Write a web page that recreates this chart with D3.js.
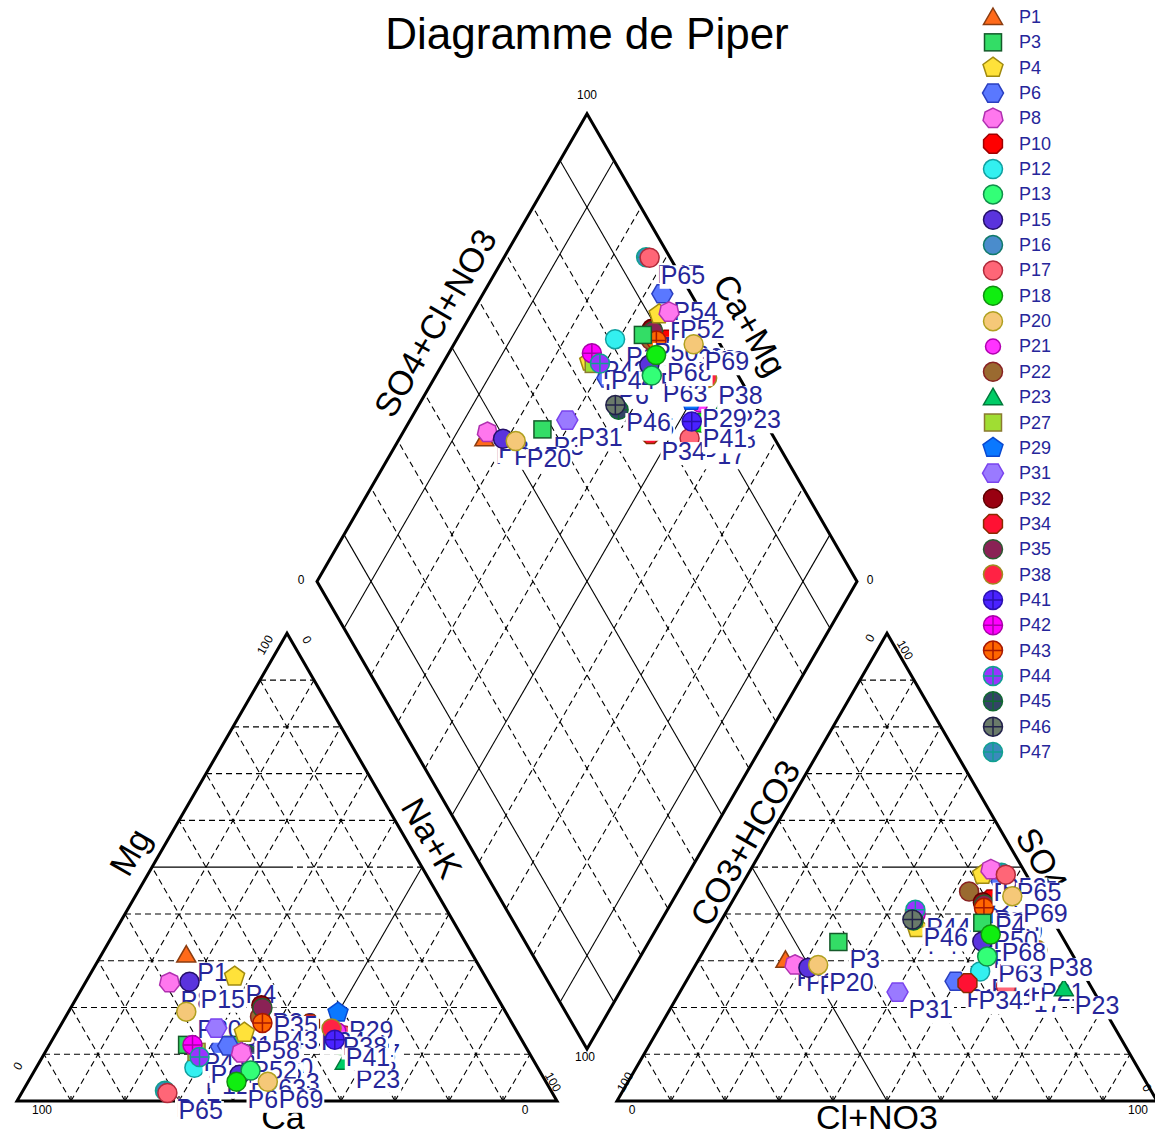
<!DOCTYPE html>
<html>
<head>
<meta charset="utf-8">
<script src="https://cdn.jsdelivr.net/npm/d3@7"></script>
<style>
  body { margin: 0; background: #fff; }
  svg text { font-family: "Liberation Sans", Arial, sans-serif; }
</style>
</head>
<body>
<svg id="chart" width="1155" height="1135"></svg>
<script>
// samples, in plotting order (legend shows the first 30)
const samples = ['P1','P3','P4','P6','P8','P10','P12','P13','P15','P16','P17','P18','P20','P21','P22',
  'P23','P27','P29','P31','P32','P34','P35','P38','P41','P42','P43','P44','P45','P46','P47',
  'P50','P54','P58','P52','P60','P63','P65','P68','P69'];
// cations, % meq
const mg  = [31.3,12,26.6,11.6,25.3,10.9,7.1,7.7,25.5,4.5,14,12,19.1,15,18,
  8.4,10.5,18.9,15.6,20.5,16.5,19.9,15.5,13.1,12,16.7,9.4,10,10.3,2.2,
  12,11.8,14.6,10.3,5.6,6.5,1.7,4.1,4.1];
const naK = [15.7,25.5,27,32,15.6,39.1,29.3,41.9,19.2,43.5,53.7,54,21.8,52,36,
  56.5,28,50,29.1,35,46,35.5,50.5,52.3,26.5,37.1,29.1,37.5,36.4,26.3,
  34,33.2,34.8,36.4,38.4,40,27,38.6,44.4];
// anions, % meq
const so4 = [30.2,34,37,25.6,29.1,43.1,27.7,43.5,28.5,43.5,24.5,27,29.1,27,44.8,
  24.1,39,40,23.3,42.5,25.2,42,32.3,35,40,41.3,40.9,38.6,38.8,48.8,
  38.1,47,48.4,49.5,34.1,30.9,48.4,35.6,43.8];
const clNO3 = [16.1,24,37,49.9,18.4,47.7,53.4,49.6,21.2,51,59.8,61,22.7,62.8,42.8,
  70.7,35.5,48.6,40.3,46.5,52.3,47,61.7,51.5,35.3,47.3,34.8,35.6,35.3,46.8,
  48.6,47.7,43.5,44.5,50.6,53.1,47.8,51.4,51.3];
const legendCount = 30;

// marker styles: [shape, fill, stroke]
const markerStyles = [
  ['tri','#ff6a1a','#8a3c10'], ['sq','#33dd66','#145a2a'], ['pent','#ffe23a','#a08a10'],
  ['hex','#5a78ff','#2a3fc0'], ['hept','#ff77ee','#b030b0'], ['oct','#ff0000','#a00000'],
  ['circ','#33f0f0','#10a0a0'], ['circ','#33ff77','#10904a'], ['circ','#5a33dd','#25106a'],
  ['circ','#4a8ccc','#107a6a'], ['circ','#ff6677','#b02a3a'], ['circ','#10ee10','#109010'],
  ['circ','#f5c878','#b0a020'], ['small','#ff33ff','#b000b0'], ['circ','#9a6a30','#882222'],
  ['tri','#00cc66','#00783a'], ['sq','#a0dd33','#8a7a30'], ['pent','#0a78ff','#0a48d0'],
  ['hex','#9a7aff','#7a44ee'], ['circ','#990011','#600000'], ['oct','#ff1133','#8a2a00'],
  ['circ','#8a2255','#2a5a30'], ['circ','#ff2244','#a08a20'], ['cross','#4a22ff','#2a10b0'],
  ['cross','#ff00ff','#a800a8'], ['cross','#ff6600','#a81800'], ['cross','#9a33ff','#10a090'],
  ['cross','#334466','#106a30'], ['cross','#6a7a6a','#22224a'], ['cross','#3a8abb','#10a090'],
  ['sq','#33dd66','#145a2a'], ['hex','#5a78ff','#2a3fc0'], ['pent','#ffe23a','#a08a10'],
  ['hept','#ff77ee','#b030b0'], ['circ','#5a33dd','#25106a'], ['circ','#33ff77','#10904a'],
  ['circ','#ff6677','#b02a3a'], ['circ','#10ee10','#109010'], ['circ','#f5c878','#b0a020']
];

const SQ3 = Math.sqrt(3) / 2;
const side = 540, gap = 60;
const baseY = 1101, leftX0 = 17;
const rightX0 = leftX0 + side + gap;
const midX = leftX0 + side + gap / 2;
const dBottomY = baseY - gap * SQ3;
const labelColor = '#26269a';

const pct = d3.scaleLinear().domain([0, 100]).range([0, side]);

const cationXY = (m, n) => [leftX0 + pct(n + m / 2), baseY - pct(m) * SQ3];
const anionXY = (s, c) => [rightX0 + pct(c + s / 2), baseY - pct(s) * SQ3];
const diamondXY = (cm, sc) => [midX + pct(sc - cm) / 2, dBottomY - pct(sc + cm) * SQ3];

const svg = d3.select('#chart');
const gridG = svg.append('g');
const frameG = svg.append('g');
const textG = svg.append('g');
const pointG = svg.append('g');
const legendG = svg.append('g');

function seg(p, q, dashed) {
  gridG.append('line')
    .attr('x1', p[0]).attr('y1', p[1]).attr('x2', q[0]).attr('y2', q[1])
    .attr('stroke', '#000')
    .attr('stroke-width', 1.1)
    .attr('stroke-dasharray', dashed ? '6,4' : null);
}

// grids
for (let v = 10; v < 100; v += 10) {
  // cation triangle
  if (v === 50) {
    seg(cationXY(50, 0), cationXY(50, 25), false);
    seg(cationXY(50, 25), cationXY(50, 50), true);
  } else {
    seg(cationXY(v, 0), cationXY(v, 100 - v), true);
  }
  seg(cationXY(0, v), cationXY(100 - v, v), v !== 50);
  seg(cationXY(0, 100 - v), cationXY(100 - v, 0), true);

  // anion triangle
  if (v === 50) {
    seg(anionXY(50, 0), anionXY(50, 25), true);
    seg(anionXY(50, 25), anionXY(50, 50), false);
  } else {
    seg(anionXY(v, 0), anionXY(v, 100 - v), true);
  }
  seg(anionXY(0, v), anionXY(100 - v, v), true);
  seg(anionXY(0, 100 - v), anionXY(100 - v, 0), v !== 50);

  // diamond
  const solid = v === 10 || v === 50 || v === 90;
  seg(diamondXY(0, v), diamondXY(100, v), !solid);
  seg(diamondXY(v, 0), diamondXY(v, 100), !solid);

  // base ticks
  [cationXY(0, v), anionXY(0, v)].forEach(p => {
    gridG.append('line')
      .attr('x1', p[0]).attr('y1', p[1]).attr('x2', p[0]).attr('y2', p[1] - 5)
      .attr('stroke', '#000').attr('stroke-width', 1.2);
  });
}

const line = d3.line();
const frames = [
  [cationXY(0, 0), cationXY(0, 100), cationXY(100, 0)],
  [anionXY(0, 0), anionXY(0, 100), anionXY(100, 0)],
  [diamondXY(0, 0), diamondXY(100, 0), diamondXY(100, 100), diamondXY(0, 100)]
];
frames.forEach(f => {
  frameG.append('path')
    .attr('d', line(f) + 'Z')
    .attr('fill', 'none')
    .attr('stroke', '#000')
    .attr('stroke-width', 3)
    .attr('stroke-linejoin', 'miter');
});

// titles and axis names
textG.append('text')
  .attr('x', midX).attr('y', 49)
  .attr('text-anchor', 'middle')
  .style('font-size', '44px')
  .text('Diagramme de Piper');

const axisNames = [
  ['Ca', 283, 1117, 0], ['Cl+NO3', 877, 1117, 0],
  ['Mg', 130, 852, -60], ['Na+K', 432, 838, 60],
  ['CO3+HCO3', 745, 843, -60], ['SO4', 1042, 860, 60],
  ['SO4+Cl+NO3', 435, 323, -60], ['Ca+Mg', 750, 325, 60]
];
axisNames.forEach(([t, x, y, r]) => {
  textG.append('text')
    .attr('transform', `translate(${x},${y}) rotate(${r})`)
    .attr('text-anchor', 'middle')
    .attr('dominant-baseline', 'central')
    .style('font-size', '34px')
    .text(t);
});

const tickNames = [
  ['100', 42, 1110, 0], ['0', 525, 1110, 0], ['0', 18, 1066, -60], ['100', 265, 645, -60],
  ['0', 307, 640, 60], ['100', 553, 1082, 60],
  ['0', 632, 1110, 0], ['100', 1138, 1110, 0], ['100', 625, 1082, -60], ['0', 870, 638, -60],
  ['100', 905, 650, 60], ['0', 1147, 1088, 60],
  ['100', 587, 95, 0], ['0', 301, 580, 0], ['0', 870, 580, 0], ['100', 585, 1057, 0]
];
tickNames.forEach(([t, x, y, r]) => {
  textG.append('text')
    .attr('transform', `translate(${x},${y}) rotate(${r})`)
    .attr('text-anchor', 'middle')
    .attr('dominant-baseline', 'central')
    .style('font-size', '12px')
    .text(t);
});

function polygon(n, r, rot) {
  const pts = d3.range(n).map(k => {
    const a = rot + k * 2 * Math.PI / n;
    return [r * Math.sin(a), -r * Math.cos(a)];
  });
  return line(pts) + 'Z';
}

function drawMarker(g, x, y, i) {
  const [shape, fill, stroke] = markerStyles[i];
  const m = g.append('g').attr('transform', `translate(${x},${y})`);
  const r = 9.5;
  let el;
  if (shape === 'tri') el = m.append('path').attr('d', polygon(3, 11, 0)).attr('transform', 'translate(0,2)');
  else if (shape === 'sq') el = m.append('rect').attr('x', -8.5).attr('y', -8.5).attr('width', 17).attr('height', 17);
  else if (shape === 'pent') el = m.append('path').attr('d', polygon(5, 10.5, 0));
  else if (shape === 'hex') el = m.append('path').attr('d', polygon(6, 10.5, Math.PI / 6));
  else if (shape === 'hept') el = m.append('path').attr('d', polygon(7, 10.2, 0));
  else if (shape === 'oct') el = m.append('path').attr('d', polygon(8, 10.2, Math.PI / 8));
  else if (shape === 'small') el = m.append('circle').attr('r', 7.5);
  else el = m.append('circle').attr('r', r);
  el.attr('fill', fill).attr('stroke', stroke).attr('stroke-width', 1.5);
  if (shape === 'cross') {
    m.append('path')
      .attr('d', `M${-r},0H${r}M0,${-r}V${r}`)
      .attr('stroke', stroke).attr('stroke-width', 1.5);
  }
}

function drawLabel(g, x, y, text) {
  const lg = g.append('g');
  const box = lg.append('rect').attr('fill', '#fff');
  const t = lg.append('text')
    .attr('x', x + 11).attr('y', y + 26)
    .attr('fill', labelColor)
    .style('font-size', '25px')
    .text(text);
  const w = t.node().getComputedTextLength();
  box.attr('x', x + 10).attr('y', y + 8).attr('width', w + 2).attr('height', 23);
}

// points: marker then its label, in sample order, on all three plots
samples.forEach((name, i) => {
  const ca = cationXY(mg[i], naK[i]);
  const an = anionXY(so4[i], clNO3[i]);
  const di = diamondXY(100 - naK[i], so4[i] + clNO3[i]);
  [ca, an, di].forEach(p => {
    drawMarker(pointG, p[0], p[1], i);
    drawLabel(pointG, p[0], p[1], name);
  });
});

// legend
const legendY = d3.scaleLinear().domain([0, legendCount - 1]).range([17, 752]);
samples.slice(0, legendCount).forEach((name, i) => {
  const y = legendY(i);
  drawMarker(legendG, 993, y, i);
  legendG.append('text')
    .attr('x', 1019).attr('y', y)
    .attr('dominant-baseline', 'central')
    .attr('fill', labelColor)
    .style('font-size', '18px')
    .text(name);
});
</script>
</body>
</html>
